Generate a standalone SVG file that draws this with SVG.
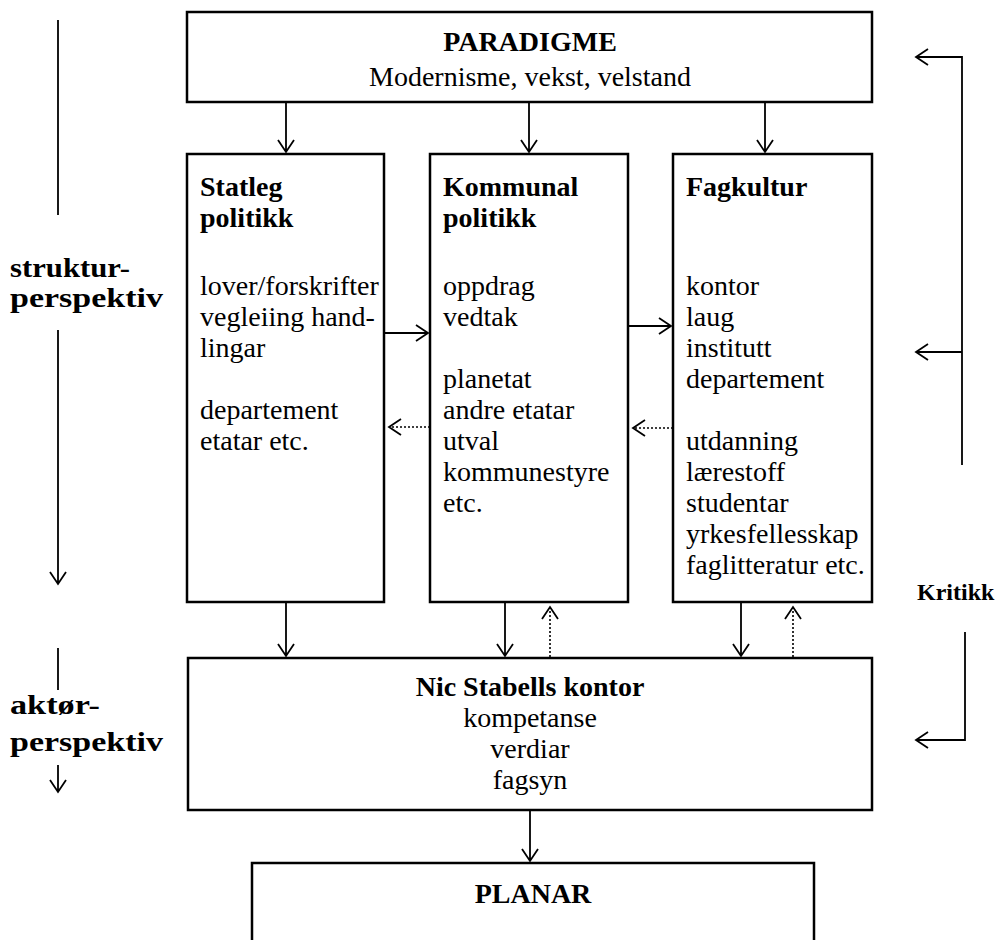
<svg xmlns="http://www.w3.org/2000/svg" width="998" height="940" viewBox="0 0 998 940">
<defs>
<style>
.box{fill:#fff;stroke:#000;stroke-width:2.5}
.ln{fill:none;stroke:#000;stroke-width:1.8}
.dot{fill:none;stroke:#000;stroke-width:1.6;stroke-dasharray:2 2}
.hd{fill:none;stroke:#000;stroke-width:1.8}
text{font-family:"Liberation Serif","Times New Roman",serif;font-size:28px;fill:#000}
.b{font-weight:bold}
.m{text-anchor:middle}
.lab{font-size:27px;font-weight:bold}
.kr{font-size:24px;font-weight:bold}
</style>
</defs>
<rect width="998" height="940" fill="#fff"/>
<g id="paradigme">
<rect class="box" x="187" y="12" width="685" height="90"/>
<text class="b m" x="530" y="51">PARADIGME</text>
<text class="m" x="530" y="86">Modernisme, vekst, velstand</text>
</g>
<g id="statleg">
<rect class="box" x="187" y="154" width="197" height="448"/>
<text class="b" x="200" y="196">Statleg</text>
<text class="b" x="200" y="227">politikk</text>
<text x="200" y="295">lover/forskrifter</text>
<text x="200" y="326">vegleiing hand-</text>
<text x="200" y="357">lingar</text>
<text x="200" y="419">departement</text>
<text x="200" y="450">etatar etc.</text>
</g>
<g id="kommunal">
<rect class="box" x="430" y="154" width="198" height="448"/>
<text class="b" x="443" y="196">Kommunal</text>
<text class="b" x="443" y="227">politikk</text>
<text x="443" y="295">oppdrag</text>
<text x="443" y="326">vedtak</text>
<text x="443" y="388">planetat</text>
<text x="443" y="419">andre etatar</text>
<text x="443" y="450">utval</text>
<text x="443" y="481">kommunestyre</text>
<text x="443" y="512">etc.</text>
</g>
<g id="fagkultur">
<rect class="box" x="673" y="154" width="199" height="448"/>
<text class="b" x="686" y="196">Fagkultur</text>
<text x="686" y="295">kontor</text>
<text x="686" y="326">laug</text>
<text x="686" y="357">institutt</text>
<text x="686" y="388">departement</text>
<text x="686" y="450">utdanning</text>
<text x="686" y="481">lærestoff</text>
<text x="686" y="512">studentar</text>
<text x="686" y="543">yrkesfellesskap</text>
<text x="686" y="574">faglitteratur etc.</text>
</g>
<g id="nic">
<rect class="box" x="188" y="658" width="684" height="152"/>
<text class="b m" x="530" y="696">Nic Stabells kontor</text>
<text class="m" x="530" y="727">kompetanse</text>
<text class="m" x="530" y="758">verdiar</text>
<text class="m" x="530" y="789">fagsyn</text>
</g>
<g id="planar">
<rect class="box" x="252" y="863" width="562" height="100"/>
<text class="b m" x="533" y="903">PLANAR</text>
</g>
<g id="labels">
<text class="lab" x="10" y="277" textLength="120" lengthAdjust="spacingAndGlyphs">struktur-</text>
<text class="lab" x="10" y="307" textLength="153" lengthAdjust="spacingAndGlyphs">perspektiv</text>
<text class="lab" x="10" y="714" textLength="90" lengthAdjust="spacingAndGlyphs">aktør-</text>
<text class="lab" x="10" y="751" textLength="153" lengthAdjust="spacingAndGlyphs">perspektiv</text>
<text class="kr" x="917" y="600">Kritikk</text>
</g>
<g id="connectors">
<path class="ln" d="M286 102V152M278 140L286 152L294 140"/>
<path class="ln" d="M529 102V152M521 140L529 152L537 140"/>
<path class="ln" d="M765 102V152M757 140L765 152L773 140"/>
<path class="ln" d="M384 333H428M416 325L428 333L416 341"/>
<path class="ln" d="M628 326H671M659 318L671 326L659 334"/>
<path class="dot" d="M430 427H390"/>
<path class="hd" d="M401 419L389 427L401 435"/>
<path class="dot" d="M673 428H634"/>
<path class="hd" d="M645 420L633 428L645 436"/>
<path class="ln" d="M286 602V656M278 644L286 656L294 644"/>
<path class="ln" d="M505 602V656M497 644L505 656L513 644"/>
<path class="ln" d="M741 602V656M733 644L741 656L749 644"/>
<path class="dot" d="M550 657V608"/>
<path class="hd" d="M542 619L550 607L558 619"/>
<path class="dot" d="M793 657V608"/>
<path class="hd" d="M785 619L793 607L801 619"/>
<path class="ln" d="M530 810V861M522 849L530 861L538 849"/>
<path class="ln" d="M58 20V215"/>
<path class="ln" d="M58 330V584M50 572L58 584L66 572"/>
<path class="ln" d="M58 648V690"/>
<path class="ln" d="M58 765V792M50 780L58 792L66 780"/>
<path class="ln" d="M962 465V57H916M928 49L916 57L928 65"/>
<path class="ln" d="M962 352H916M928 344L916 352L928 360"/>
<path class="ln" d="M965 632V740H916M928 732L916 740L928 748"/>
</g>
</svg>
